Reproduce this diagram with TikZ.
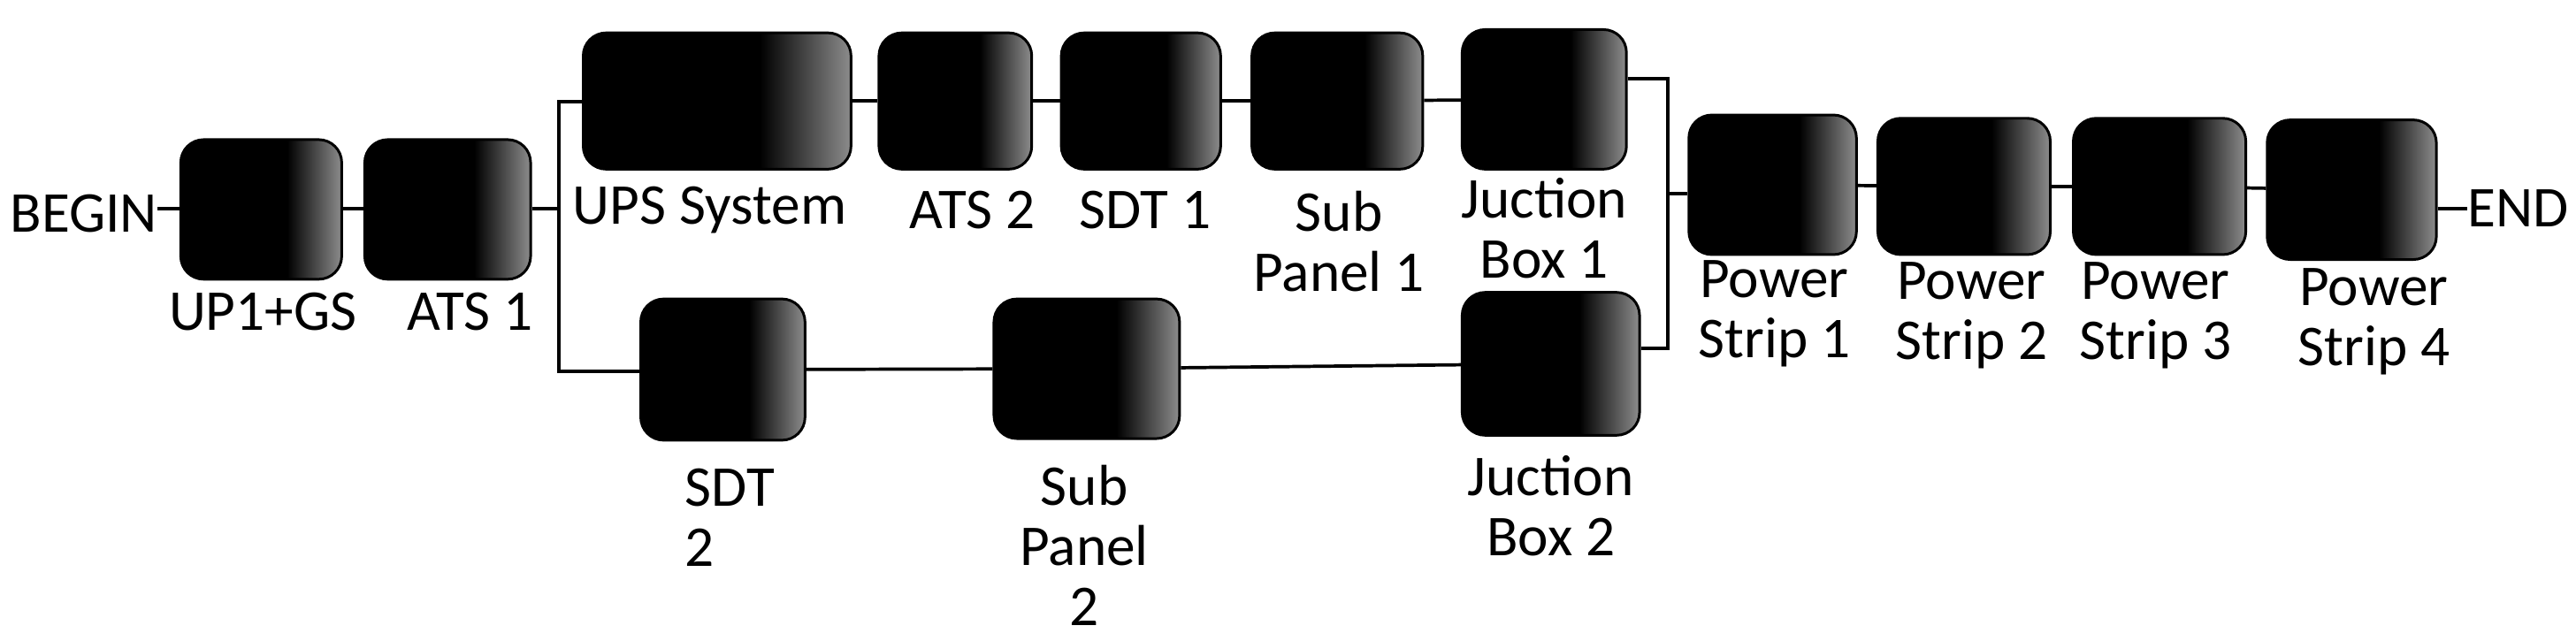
\documentclass[tikz,border=0pt]{standalone}
\usepackage{fontspec}
\setmainfont{Carlito}
\pgfdeclarehorizontalshading{boxshade}{100bp}{color(0bp)=(black); color(25bp)=(black); color(58bp)=(black); color(75bp)=(black!45); color(100bp)=(black!45)}
\tikzset{
 box/.style={draw=black, line width=0.8mm, rounded corners=7mm, shading=boxshade, inner sep=0pt},
 lab/.style={font=\fontsize{50}{52}\selectfont, align=center, inner sep=0pt},
 wire/.style={line width=1mm, black}
}
\begin{document}
\begin{tikzpicture}[x=0.5mm,y=-0.5mm]
\useasboundingbox (0,0) rectangle (1568,390);
\newcommand{\bx}[5]{\node[box, minimum width=#4*0.5mm, minimum height=#5*0.5mm] (#1) at (#2,#3) {};}
\bx{b1}{159}{127.5}{98}{85}
\bx{b2}{272.5}{127.5}{101}{85}
\bx{ups}{436.5}{61.5}{163}{83}
\bx{ats2}{581.5}{61.5}{93}{83}
\bx{sdt1}{694.5}{61.5}{97}{83}
\bx{sp1}{814}{61.5}{104}{83}
\bx{jb1}{940}{60.5}{100}{85}
\bx{sdt2}{440}{225}{100}{86}
\bx{sp2}{661.5}{224.5}{113}{85}
\bx{jb2}{944}{221.5}{108}{87}
\bx{ps1}{1079}{112.5}{102}{85}
\bx{ps2}{1195.5}{113.5}{105}{83}
\bx{ps3}{1314.5}{113.5}{105}{83}
\bx{ps4}{1431.5}{115.5}{103}{85}
% texts
\node[lab, anchor=east] (begin) at (96,130) {BEGIN};
\node[lab, anchor=west] (end) at (1502,127) {END};
\node[lab] (l1) at (160,190) {UP1+GS};
\node[lab] (l2) at (286,190) {ATS 1};
\node[lab] (l3) at (432,128) {UPS System};
\node[lab] (l4) at (592,128) {ATS 2};
\node[lab] (l5) at (697,128) {SDT 1};
\node[lab] (l6) at (815,147) {Sub\\Panel 1};
\node[lab] (l7) at (940,139) {Juction\\Box 1};
\node[lab, align=left, anchor=west] (l8) at (417,315) {SDT\\2};
\node[lab] (l9) at (660,332) {Sub\\Panel\\2};
\node[lab] (l10) at (944,308) {Juction\\Box 2};
\node[lab] (l11) at (1080,191) {Power\\Strip 1};
\node[lab] (l12) at (1200,192) {Power\\Strip 2};
\node[lab] (l13) at (1312,192) {Power\\Strip 3};
\node[lab] (l14) at (1445,196) {Power\\Strip 4};
% coordinates
\coordinate (va) at (340,62);
\coordinate (vb) at (340,226);
\coordinate (vm) at (340,127);
\coordinate (ra) at (1015,48);
\coordinate (rb) at (1015,212);
\coordinate (rm) at (1015,118);
% wires
\draw[wire] (begin.east |- 0,127) -- (b1.west |- 0,127);
\draw[wire] (b1.east |- 0,127) -- (b2.west |- 0,127);
\draw[wire] (b2.east |- 0,127) -- (vm);
\draw[wire] (ups.west |- va) -- (va) -- (vb) -- (sdt2.west |- vb);
\draw[wire] (ups) -- (ats2);
\draw[wire] (ats2) -- (sdt1);
\draw[wire] (sdt1) -- (sp1);
\draw[wire] (sp1) -- (jb1);
\draw[wire] (sdt2) -- (sp2);
\draw[wire] (sp2) -- (jb2);
\draw[wire] (jb1.east |- ra) -- (ra) -- (rb) -- (jb2.east |- rb);
\draw[wire] (rm) -- (ps1.west |- rm);
\draw[wire] (ps1) -- (ps2);
\draw[wire] (ps2) -- (ps3);
\draw[wire] (ps3) -- (ps4);
\draw[wire] (ps4.east |- 0,127) -- (end.west |- 0,127);
\end{tikzpicture}
\end{document}
